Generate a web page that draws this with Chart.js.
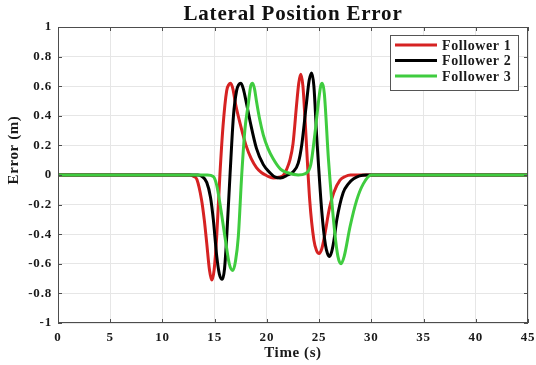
<!DOCTYPE html>
<html>
<head>
<meta charset="utf-8">
<script src="https://cdn.jsdelivr.net/npm/chart.js@4"></script>
<style>
  html, body { margin: 0; padding: 0; background: #fff; }
  #wrap { width: 536px; height: 365px; }
</style>
</head>
<body>
<div id="wrap"><canvas id="errChart" width="536" height="365"></canvas></div>
<script>
// lateral error (time in s, error in m)
const f1Time  = [0, 12.6, 13.0, 13.3, 13.75, 14.0, 14.24, 14.5, 14.72, 14.95, 15.19, 15.5, 15.8, 16.15, 16.35, 16.53, 16.75, 17.0, 17.5, 18.0, 18.5, 19.0, 19.5, 20.0, 20.6, 21.2, 21.6, 21.9, 22.2, 22.5, 22.85, 23.05, 23.24, 23.45, 23.65, 24.1, 24.5, 24.75, 25.0, 25.25, 25.5, 26.0, 26.4, 27.0, 27.5, 28.0, 45];
const f1Error = [0, 0, -0.01, -0.03, -0.17, -0.3, -0.46, -0.64, -0.71, -0.64, -0.42, 0, 0.33, 0.57, 0.61, 0.62, 0.58, 0.48, 0.33, 0.2, 0.11, 0.05, 0.015, -0.005, -0.02, -0.015, 0, 0.04, 0.1, 0.21, 0.48, 0.62, 0.68, 0.6, 0.38, -0.17, -0.44, -0.51, -0.53, -0.5, -0.42, -0.22, -0.12, -0.035, -0.01, 0, 0];

const f2Time  = [0, 13.4, 13.8, 14.24, 14.6, 14.87, 15.2, 15.45, 15.73, 15.95, 16.15, 16.47, 16.8, 17.1, 17.3, 17.52, 17.75, 18.0, 18.4, 19.0, 19.66, 20.3, 20.8, 21.3, 22.0, 22.5, 23.0, 23.35, 23.75, 24.05, 24.29, 24.5, 24.77, 25.25, 25.6, 25.8, 26.0, 26.2, 26.4, 26.7, 27.3, 27.8, 28.3, 29.5, 45];
const f2Error = [0, 0, -0.01, -0.05, -0.15, -0.3, -0.55, -0.67, -0.705, -0.63, -0.42, 0, 0.4, 0.57, 0.61, 0.62, 0.58, 0.5, 0.36, 0.18, 0.07, 0.015, -0.015, -0.02, 0, 0.02, 0.08, 0.21, 0.46, 0.64, 0.69, 0.6, 0.26, -0.24, -0.47, -0.53, -0.55, -0.52, -0.45, -0.3, -0.12, -0.06, -0.025, 0, 0];

const f3Time  = [0, 14.3, 14.87, 15.2, 15.5, 15.99, 16.4, 16.75, 17.0, 17.26, 17.59, 17.9, 18.22, 18.45, 18.64, 18.82, 19.0, 19.3, 19.66, 20.1, 20.6, 21.3, 22.0, 23.0, 23.7, 24.2, 24.6, 24.95, 25.15, 25.3, 25.5, 25.9, 26.5, 26.8, 27.1, 27.4, 27.96, 28.6, 29.23, 30.0, 45];
const f3Error = [0, 0, -0.01, -0.07, -0.19, -0.42, -0.6, -0.645, -0.58, -0.42, 0, 0.31, 0.48, 0.6, 0.62, 0.58, 0.5, 0.38, 0.27, 0.18, 0.11, 0.04, 0.015, 0, 0.01, 0.07, 0.28, 0.5, 0.6, 0.62, 0.55, 0.1, -0.39, -0.55, -0.6, -0.55, -0.35, -0.17, -0.06, 0, 0];

const seriesNames = ['Follower 1', 'Follower 2', 'Follower 3'];
const xTicks = [0, 5, 10, 15, 20, 25, 30, 35, 40, 45];
const yTicks = [-1, -0.8, -0.6, -0.4, -0.2, 0, 0.2, 0.4, 0.6, 0.8, 1];
const yTickLabels = ['-1', '-0.8', '-0.6', '-0.4', '-0.2', '0', '0.2', '0.4', '0.6', '0.8', '1'];

const SERIF = "'Liberation Serif', 'Times New Roman', serif";

function toPoints(xs, ys) {
    return xs.map((x, i) => ({ x: x, y: ys[i] }));
}

function spacing(ctx, px) {
    if ('letterSpacing' in ctx) ctx.letterSpacing = px;
}

// box around the axes, inward ticks, axis titles, legend
const matlabFrame = {
    id: 'matlabFrame',
    beforeDraw(chart) {
        // the reference text is a bit wide, widen the tick labels and title
        spacing(chart.ctx, '0.8px');
    },
    beforeDatasetsDraw(chart) {
        spacing(chart.ctx, '0px');
    },
    afterDraw(chart) {
        const ctx = chart.ctx;
        const a = chart.chartArea;
        const xs = chart.scales.x, ys = chart.scales.y;
        ctx.save();
        spacing(ctx, '0px');
        ctx.strokeStyle = '#4d4d4d';
        ctx.lineWidth = 1;
        ctx.strokeRect(a.left + 0.5, a.top + 0.5, a.right - a.left - 1, a.bottom - a.top - 1);
        ctx.beginPath();
        xTicks.forEach(v => {
            const px = Math.round(xs.getPixelForValue(v)) + 0.5;
            ctx.moveTo(px, a.bottom); ctx.lineTo(px, a.bottom - 4);
            ctx.moveTo(px, a.top); ctx.lineTo(px, a.top + 4);
        });
        yTicks.forEach(v => {
            const py = Math.round(ys.getPixelForValue(v)) + 0.5;
            ctx.moveTo(a.left, py); ctx.lineTo(a.left + 4, py);
            ctx.moveTo(a.right, py); ctx.lineTo(a.right - 4, py);
        });
        ctx.stroke();

        // axis titles
        ctx.fillStyle = '#1a1a1a';
        ctx.font = 'bold 15px ' + SERIF;
        ctx.textAlign = 'center';
        ctx.textBaseline = 'middle';
        spacing(ctx, '0.6px');
        ctx.fillText('Time (s)', (a.left + a.right) / 2, 353);
        ctx.save();
        ctx.translate(14, 150);
        ctx.rotate(-Math.PI / 2);
        ctx.fillText('Error (m)', 0, 0);
        ctx.restore();

        // legend
        const lx = 390, ly = 35, lw = 128, lh = 55;
        ctx.fillStyle = '#fff';
        ctx.fillRect(lx, ly, lw, lh);
        ctx.strokeStyle = '#555';
        ctx.lineWidth = 1;
        ctx.strokeRect(lx + 0.5, ly + 0.5, lw, lh);
        ctx.font = 'bold 14px ' + SERIF;
        ctx.textAlign = 'left';
        chart.data.datasets.forEach((ds, i) => {
            const ry = ly + 10 + i * 15.5;
            ctx.strokeStyle = ds.borderColor;
            ctx.lineWidth = 3;
            ctx.beginPath();
            ctx.moveTo(lx + 5, ry); ctx.lineTo(lx + 47, ry);
            ctx.stroke();
            ctx.fillStyle = '#1a1a1a';
            spacing(ctx, '0.6px');
            ctx.fillText(ds.label, lx + 52, ry + 1);
        });
        spacing(ctx, '0px');
        ctx.restore();
    }
};

const ctx = document.getElementById('errChart').getContext('2d');
new Chart(ctx, {
    type: 'line',
    data: {
        datasets: [
            {
                label: seriesNames[0],
                data: toPoints(f1Time, f1Error),
                borderColor: '#d62222',
                order: 2
            },
            {
                label: seriesNames[1],
                data: toPoints(f2Time, f2Error),
                borderColor: '#000000',
                order: 1
            },
            {
                label: seriesNames[2],
                data: toPoints(f3Time, f3Error),
                borderColor: '#3fcc3f',
                order: 0
            }
        ]
    },
    options: {
        responsive: false,
        animation: false,
        layout: { padding: { left: 0, right: 8, top: 0, bottom: 0 } },
        elements: {
            line: { borderWidth: 3, cubicInterpolationMode: 'monotone', fill: false },
            point: { radius: 0 }
        },
        plugins: {
            legend: { display: false },
            tooltip: { enabled: false },
            title: {
                display: true,
                text: 'Lateral Position Error',
                fullSize: false,
                color: '#111',
                font: { family: SERIF, size: 21, weight: 'bold', lineHeight: 1 },
                padding: { top: 4, bottom: 2 }
            }
        },
        scales: {
            x: {
                type: 'linear',
                min: 0,
                max: 45,
                afterBuildTicks: s => { s.ticks = xTicks.map(v => ({ value: v })); },
                afterFit: s => { s.height = 42; s.paddingLeft = 0; s.paddingRight = 0; },
                ticks: {
                    color: '#1a1a1a',
                    padding: 7,
                    maxRotation: 0,
                    font: { family: SERIF, size: 13, weight: 'bold' }
                },
                grid: { color: '#e6e6e6', drawTicks: false },
                border: { display: false }
            },
            y: {
                min: -1,
                max: 1,
                afterBuildTicks: s => { s.ticks = yTicks.map(v => ({ value: v })); },
                afterFit: s => { s.width = 58; },
                ticks: {
                    color: '#1a1a1a',
                    padding: 6,
                    font: { family: SERIF, size: 13, weight: 'bold' },
                    callback: (v, i) => yTickLabels[i]
                },
                grid: { color: '#e6e6e6', drawTicks: false },
                border: { display: false }
            }
        }
    },
    plugins: [matlabFrame]
});
</script>
</body>
</html>
